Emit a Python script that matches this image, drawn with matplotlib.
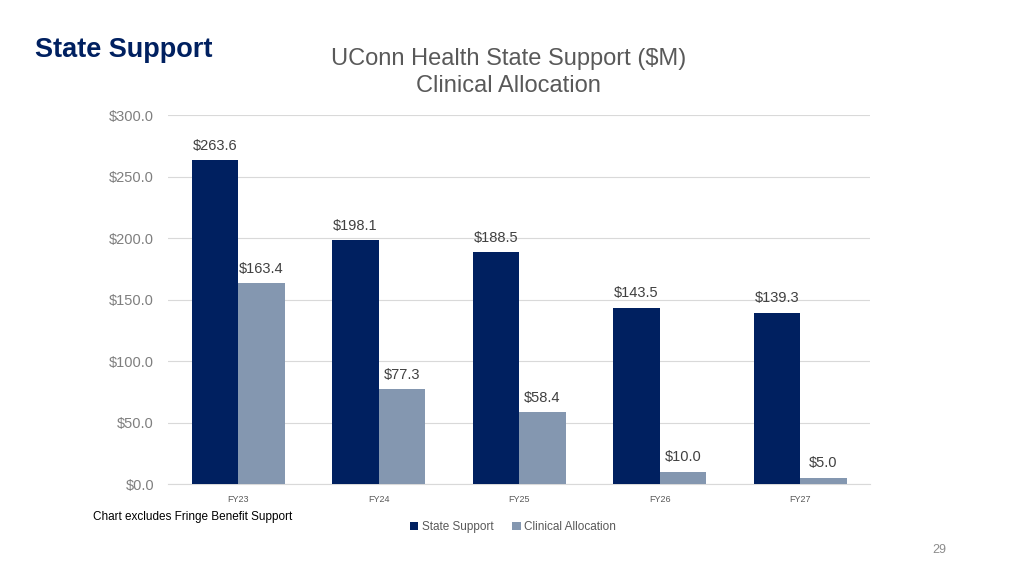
import numpy as np
import matplotlib.pyplot as plt

# values ($M)
years = ['FY23', 'FY24', 'FY25', 'FY26', 'FY27']
state_support = [263.6, 198.1, 188.5, 143.5, 139.3]
clinical_alloc = [163.4, 77.3, 58.4, 10.0, 5.0]
yticks = [0, 50, 100, 150, 200, 250, 300]

navy = '#002060'
slate = '#8497B0'

plt.rcParams['font.family'] = ['Liberation Sans', 'DejaVu Sans']

fig = plt.figure(figsize=(10.24, 5.76), dpi=100)
ax = fig.add_axes([0.164, 0.1597, 0.686, 0.6403])

x = np.arange(len(years))
w = 0.33
b1 = ax.bar(x - w / 2, state_support, w, color=navy, label='State Support', zorder=3)
b2 = ax.bar(x + w / 2, clinical_alloc, w, color=slate, label='Clinical Allocation', zorder=3)

# value labels above each bar
for bars in (b1, b2):
    for r in bars:
        v = r.get_height()
        ax.text(r.get_x() + r.get_width() / 2, v + 6, '${:.1f}'.format(v),
                ha='center', va='bottom', fontsize=10.5, color='#404040')

ax.set_xlim(-0.5, len(years) - 0.5)
ax.set_ylim(0, 300)
ax.set_yticks(yticks)
ax.set_yticklabels(['${:.1f}'.format(t) for t in yticks], fontsize=10.5, color='#7f7f7f')
ax.set_xticks(x)
ax.set_xticklabels(years, fontsize=6.5, color='#595959')
ax.tick_params(length=0, pad=8)
ax.tick_params(axis='y', pad=10)
ax.grid(axis='y', color='#d9d9d9', lw=0.8, zorder=0)
for s in ['top', 'right', 'left']:
    ax.spines[s].set_visible(False)
ax.spines['bottom'].set_color('#d9d9d9')

fig.text(0.497, 0.898, 'UConn Health State Support ($M)', ha='center', va='center',
         fontsize=17, color='#595959')
fig.text(0.497, 0.851, 'Clinical Allocation', ha='center', va='center',
         fontsize=17, color='#595959')
fig.text(0.034, 0.913, 'State Support', ha='left', va='center', fontsize=19.5,
         fontweight='bold', color=navy)
fig.text(0.091, 0.102, 'Chart excludes Fringe Benefit Support', ha='left', va='center',
         fontsize=8.5, color='#000000')
fig.text(0.917, 0.046, '29', ha='center', va='center', fontsize=9, color='#8c8c8c')

fig.legend(loc='center', bbox_to_anchor=(0.501, 0.085), ncol=2, frameon=False,
           fontsize=8.5, handlelength=0.7, handleheight=0.7, handletextpad=0.3,
           columnspacing=1.6, labelcolor='#595959')

fig.savefig('out.png', dpi=100)
